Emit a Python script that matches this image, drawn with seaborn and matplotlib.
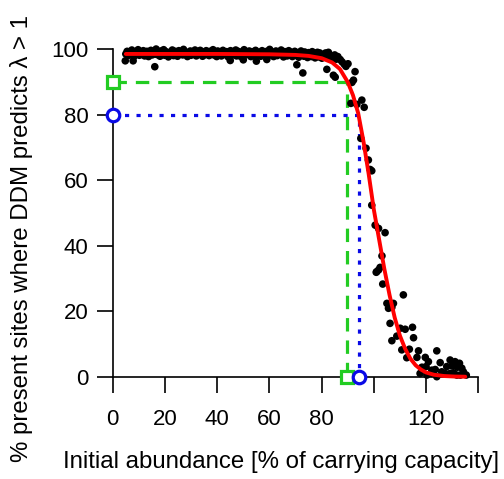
#importing module and library
import seaborn as sns
import matplotlib
matplotlib.use('Agg')
import matplotlib.pyplot as plt

#points on the plateau
plateau_x = [5.0, 5.5, 5.8, 6.4, 6.9, 7.3, 7.9, 8.2, 8.8, 9.3, 9.7, 10.2, 10.8, 11.1, 11.7, 12.2,
             12.6, 13.1, 13.7, 14.0, 14.6, 15.1, 15.5, 16.0, 16.6, 17.0, 17.5, 18.1, 18.4, 19.0,
             19.5, 19.9, 20.4, 21.0, 21.3, 21.9, 22.4, 22.8, 23.3, 23.9, 24.2, 24.8, 25.3, 25.7,
             26.2, 26.8, 27.1, 27.7, 28.2, 28.6, 29.1, 29.7, 30.0, 30.6, 31.1, 31.5, 32.0, 32.6,
             32.9, 33.5, 34.0, 34.4, 34.9, 35.5, 35.8, 36.4, 36.9, 37.3, 37.8, 38.4, 38.7, 39.3,
             39.8, 40.2, 40.7, 41.3, 41.6, 42.2, 42.7, 43.1, 43.6, 44.2, 44.5, 45.1, 45.6, 46.0,
             46.5, 47.1, 47.4, 48.0, 48.5, 48.9, 49.4, 50.0, 50.3, 50.9, 51.4, 51.8, 52.3, 52.9,
             53.2, 53.8, 54.3, 54.7, 55.2, 55.8, 56.1, 56.7, 57.2, 57.6, 58.1, 58.7, 59.0, 59.6,
             60.1, 60.5, 61.0, 61.6, 61.9, 62.5, 63.0, 63.4, 63.9, 64.5, 64.8, 65.4, 65.9, 66.3,
             66.8, 67.4, 67.7, 68.3, 68.8, 69.2, 69.7, 70.3, 70.6, 71.2, 71.7, 72.1, 72.6, 73.2,
             73.5, 74.1, 74.6, 75.0, 75.5, 76.1, 76.4, 77.0, 77.5, 77.9, 78.4, 79.0, 79.3, 79.9]
plateau_y = [98.6, 99.4, 98.1, 99.0, 98.4, 99.8, 98.9, 97.9, 99.3, 98.7, 99.9, 98.2, 99.1, 98.5,
             99.6, 98.0, 98.8, 99.4, 97.8, 98.9, 99.7, 98.3, 99.2, 98.6, 100.1, 98.4, 99.0, 97.9,
             99.5, 98.7, 99.9, 98.2, 99.3, 98.8, 97.7, 99.1, 98.5, 99.8, 98.1, 99.4, 98.9, 97.9,
             99.6, 98.6, 99.2, 98.3, 100.0, 98.8, 99.1, 97.8, 98.6, 99.5, 98.2, 99.0, 98.7, 99.8,
             98.0, 99.3, 98.5, 99.7, 98.9, 97.9, 99.2, 98.4, 99.6, 98.7, 98.1, 99.4, 98.8, 99.9,
             98.3, 99.0, 97.8, 99.5, 98.6, 99.2, 98.0, 99.7, 98.9, 98.4, 99.3, 97.7, 98.8, 99.6,
             98.2, 99.1, 98.6, 99.8, 98.0, 99.4, 98.7, 97.9, 99.2, 98.5, 99.9, 98.3, 99.0, 98.8,
             99.5, 97.8, 98.6, 99.3, 98.1, 99.7, 98.9, 98.4, 99.1, 97.9, 99.6, 98.5, 99.0, 98.2,
             99.4, 98.8, 100.0, 98.3, 99.2, 97.8, 98.7, 99.5, 98.1, 99.0, 98.6, 99.8, 98.4, 97.7,
             99.3, 98.9, 98.0, 99.6, 98.5, 99.1, 97.8, 98.8, 99.4, 98.2, 99.0, 97.6, 98.7, 99.5,
             98.3, 97.9, 99.2, 98.6, 97.5, 99.0, 98.4, 97.8, 99.3, 98.1, 97.4, 98.8, 99.1, 97.7,
             98.9, 97.6]

#outliers below the plateau
low_x = [4.8, 7.8, 16.1, 45.0, 50.0, 55.0, 59.0, 70.5, 72.8]
low_y = [96.5, 96.5, 94.7, 96.6, 96.8, 96.4, 96.9, 95.3, 92.8]

#points in the drop and the tail
drop_x = [80.1, 80.8, 81.5, 82.0, 82.6, 83.2, 83.8, 84.3, 85.0, 85.6, 86.2, 87.1, 87.8, 88.6,
          89.3, 90.1, 82.0, 84.5, 85.2, 92.8, 92.2, 91.6, 91.2, 93.5, 95.4, 96.3, 95.0, 97.0,
          97.9, 98.6, 99.2, 99.2, 100.5, 101.8, 104.3, 103.1, 102.4, 101.1, 100.9, 101.8, 103.4,
          111.3, 105.0, 106.2, 107.5, 105.6, 106.9, 106.2, 110.1, 112.0, 114.8, 108.8, 106.9,
          115.2, 110.7, 113.6, 117.1, 112.6, 116.5, 124.1, 119.7, 120.9, 125.4, 118.4, 120.0,
          122.2, 123.5, 129.2, 131.1, 132.8, 127.9, 129.9, 132.0, 133.7, 134.3, 135.4, 126.0,
          127.3, 129.2, 130.5, 131.8, 133.1, 120.3, 122.2, 117.7, 124.1]
drop_y = [97.3, 98.2, 98.9, 97.7, 99.1, 98.0, 97.1, 97.6, 98.3, 97.0, 97.8, 96.9, 96.2, 95.5,
          94.8, 95.6, 93.9, 92.1, 91.5, 93.2, 90.6, 89.9, 83.5, 83.2, 84.5, 82.3, 72.8, 69.8,
          66.2, 63.3, 62.9, 52.4, 46.3, 45.3, 44.0, 36.9, 33.4, 32.1, 31.9, 32.6, 28.3,
          25.0, 22.4, 21.9, 22.4, 20.9, 21.2, 16.3, 14.8, 14.5, 15.1, 12.4, 11.0,
          11.9, 8.2, 8.4, 7.9, 5.8, 5.9, 7.9, 5.9, 4.6, 4.3, 2.9, 3.1,
          2.0, 2.2, 5.1, 4.6, 4.1, 3.1, 3.3, 2.9, 2.6, 1.5, 0.5, 1.5,
          1.0, 1.0, 1.2, 0.5, 0.5, 0.5, 1.0, 1.0, 0.0]

#fitted curve
fit_x = [5, 20, 40, 60, 70, 75, 80, 84, 87, 90, 92, 94, 96, 98, 100, 102, 104, 106, 108, 110,
         112, 114, 116, 118, 120, 123, 127, 131, 135]
fit_y = [98.6, 98.6, 98.6, 98.5, 98.3, 98.0, 97.3, 96.0, 94.0, 90.0, 86.0, 80.5, 72.0, 62.0,
         51.0, 42.0, 33.0, 25.0, 18.0, 12.5, 8.5, 5.5, 3.5, 2.2, 1.3, 0.6, 0.2, 0.05, 0.0]

#thresholds
green_x, green_y = 89.7, 90
blue_x, blue_y = 94.5, 80

x_ticks = [0, 20, 40, 60, 80, 100, 120, 140]
x_labels = ['0', '20', '40', '60', '80', '', '120', '']
y_ticks = [0, 20, 40, 60, 80, 100]

sns.set_style('ticks')
plt.rcParams['font.family'] = ['Liberation Sans', 'DejaVu Sans']

fig = plt.figure(figsize=(5.04, 4.79), dpi=100)
ax = fig.add_axes([0.203, 0.2033, 0.746, 0.7073])

sns.scatterplot(x=plateau_x + low_x + drop_x, y=plateau_y + low_y + drop_y, color='black',
                s=30, edgecolor='none', ax=ax, zorder=3)
sns.lineplot(x=fit_x, y=fit_y, color='red', linewidth=2.8, sort=False, ax=ax, zorder=4)

#green dashed threshold
ax.plot([0, green_x, green_x], [green_y, green_y, 0], color='#22cc22', linewidth=2.3,
        dashes=(4.2, 2.8), zorder=2)
ax.plot([0, green_x], [green_y, 0], linestyle='none', marker='s', markersize=9,
        markerfacecolor='white', markeredgecolor='#22cc22', markeredgewidth=2.3,
        clip_on=False, zorder=5)
#blue dotted threshold
ax.plot([0, blue_x, blue_x], [blue_y, blue_y, 0], color='#0a0ae6', linewidth=2.3,
        dashes=(1.3, 2.3), zorder=2)
ax.plot([0, blue_x], [blue_y, 0], linestyle='none', marker='o', markersize=9,
        markerfacecolor='white', markeredgecolor='#0a0ae6', markeredgewidth=2.3,
        clip_on=False, zorder=6)

ax.set_xlim(-4, 140)
ax.set_ylim(-1.5, 102)
ax.spines['top'].set_visible(False)
ax.spines['right'].set_visible(False)
ax.spines['left'].set_position(('data', 0))
ax.spines['bottom'].set_position(('data', 0))
ax.spines['left'].set_bounds(0, 100)
ax.spines['bottom'].set_bounds(0, 140)
for s in ['left', 'bottom']:
    ax.spines[s].set_linewidth(1.2)
    ax.spines[s].set_color('black')

ax.set_xticks(x_ticks)
ax.set_xticklabels(x_labels)
ax.set_yticks(y_ticks)
ax.tick_params(axis='both', direction='out', length=11.5, width=1.2, labelsize=16,
               color='black', labelcolor='black')
ax.tick_params(axis='x', pad=12)
ax.tick_params(axis='y', pad=6)

fig.text(22 / 504, 1 - 238 / 479, '% present sites where DDM predicts λ > 1', rotation=90,
         ha='center', va='center', fontsize=17.3, color='black')
fig.text(281 / 504, 1 - 462 / 479, 'Initial abundance [% of carrying capacity]',
         ha='center', va='center', fontsize=17.3, color='black')

plt.savefig('out.png', dpi=100)
